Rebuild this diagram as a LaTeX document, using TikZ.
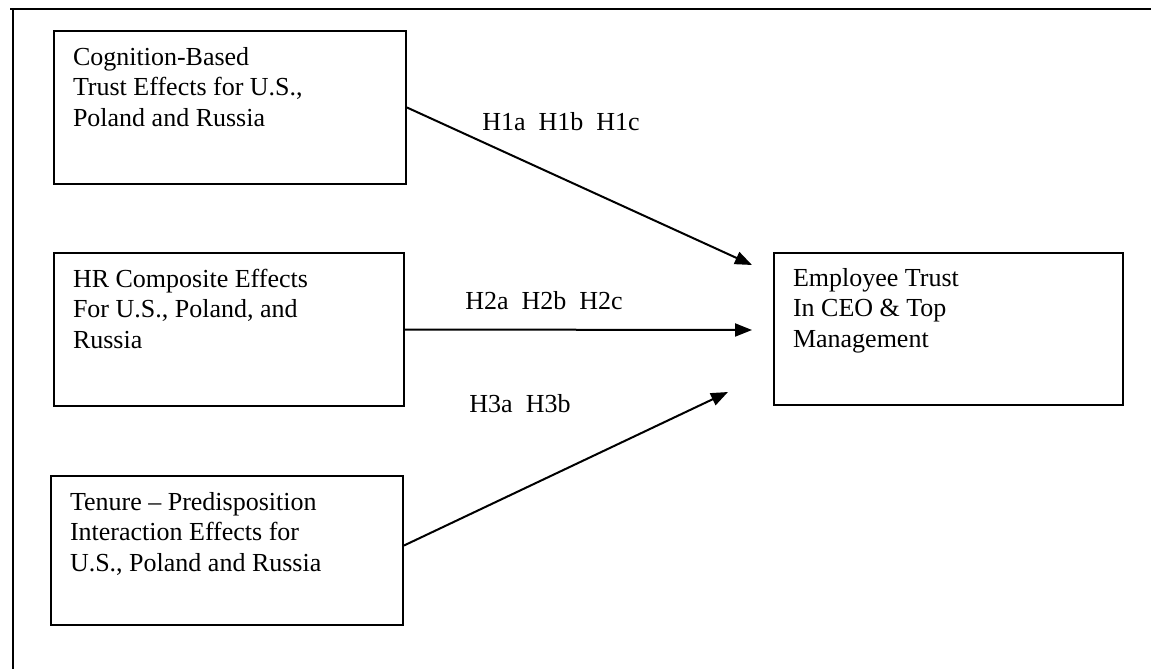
\documentclass[tikz,border=0pt]{standalone}
\usepackage{fontspec}
\setmainfont{Liberation Serif}
\usetikzlibrary{calc, positioning, arrows.meta}

\begin{document}
\begin{tikzpicture}[x=1pt, y=-1pt, >={Triangle[length=17pt, width=13pt]}, line width=2pt,
		blk/.style={draw, anchor=north west, inner sep=0pt},
		txt/.style={anchor=north west, align=left, inner sep=0pt, font=\fontsize{26}{30.5}\selectfont},
		hyp/.style={inner sep=0pt, font=\fontsize{26}{30.5}\selectfont}]
		\useasboundingbox (0,0) rectangle (1151,669);

		% frame
		\draw (10,9) -- (1151,9);
		\draw (13,9) -- (13,669);

		\node[blk, minimum width=352pt, minimum height=153pt] (cog) at (53,30) {};
		\node[blk, minimum width=350pt, minimum height=153pt] (hr) at (53,252) {};
		\node[blk, minimum width=352pt, minimum height=149pt] (ten) at (50,475) {};
		\node[blk, minimum width=349pt, minimum height=152pt] (emp) at (773,252) {};

		\node[txt] (cogt) at ($(cog.north west)+(19,16)$) {Cognition-Based\\Trust Effects for U.S.,\\Poland and Russia};
		\node[txt] (hrt) at ($(hr.north west)+(19,16)$) {HR Composite Effects\\For U.S., Poland, and\\Russia};
		\node[txt] (tent) at ($(ten.north west)+(19,16)$) {Tenure -- Predisposition\\Interaction Effects for\\U.S., Poland and Russia};
		\node[txt] (empt) at ($(emp.north west)+(19,15)$) {Employee Trust\\In CEO \& Top\\Management};

		\coordinate (t1) at (752,265);
		\coordinate (t2) at (752,330);
		\coordinate (t3) at (728,392);

		\draw[->] (cog.east) -- (t1);
		\draw[->] (hr.east) -- (t2);
		\draw[->] ($(ten.east)+(0,-5)$) -- (t3);

		\node[hyp] (h1) at (561,122) {H1a\ \ H1b\ \ H1c};
		\node[hyp] (h2) at (544,301) {H2a\ \ H2b\ \ H2c};
		\node[hyp] (h3) at (520,404) {H3a\ \ H3b};

	\end{tikzpicture}
\end{document}
